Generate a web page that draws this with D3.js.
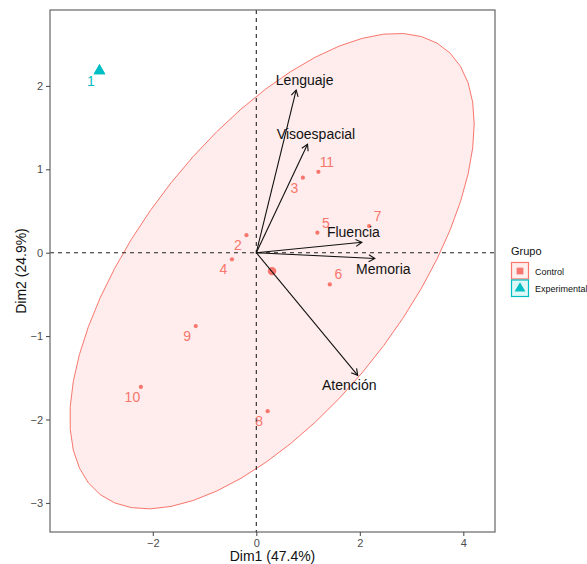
<!DOCTYPE html>
<html>
<head>
<meta charset="utf-8">
<script src="https://cdn.jsdelivr.net/npm/d3@7"></script>
<style>
  body { margin: 0; background: #fff; }
  svg { display: block; font-family: "Liberation Sans", Arial, sans-serif; }
</style>
</head>
<body>
<div id="chart"></div>
<script>
// individuals (PCA scores)
const indNames = ["1", "2", "3", "4", "5", "6", "7", "8", "9", "10", "11"];
const indGroup = ["Experimental", "Control", "Control", "Control", "Control", "Control",
  "Control", "Control", "Control", "Control", "Control"];
const indDim1 = [-3.03, -0.19, 0.90, -0.47, 1.18, 1.42, 2.18, 0.22, -1.17, -2.23, 1.20];
const indDim2 = [2.18, 0.21, 0.90, -0.08, 0.24, -0.38, 0.32, -1.90, -0.88, -1.61, 0.97];

// variables (arrows)
const varNames = ["Lenguaje", "Visoespacial", "Fluencia", "Memoria", "Atención"];
const varDim1 = [0.77, 0.99, 2.04, 2.29, 1.96];
const varDim2 = [1.95, 1.30, 0.125, -0.07, -1.47];

const groups = ["Control", "Experimental"];
const xTicks = [-2, 0, 2, 4];
const yTicks = [-3, -2, -1, 0, 1, 2];

// label placement (repel direction), layout only
const indLabelDir = [[-1, 1], [-1, 1], [-1, 1], [-1, 1], [1, -1], [1, -1], [1, -1],
  [-1, 1], [-1, 1], [-1, 1], [1, -1]];
const varLabelDir = [[1, -1], [1, -1], [-1, -1], [1, 1], [-1, 1]];

const width = 587, height = 564;
const panel = { left: 50, right: 495, top: 10, bottom: 532 };
const color = d3.scaleOrdinal().domain(groups).range(["#F8766D", "#00BFC4"]);

const x = d3.scaleLinear().domain([-3.986, 4.612]).range([panel.left, panel.right]);
const y = d3.scaleLinear().domain([2.91, -3.349]).range([panel.top, panel.bottom]);

const svg = d3.select("#chart").append("svg")
  .attr("width", width)
  .attr("height", height);

const inds = indNames.map((n, i) => ({
  name: n, group: indGroup[i], d1: indDim1[i], d2: indDim2[i], dir: indLabelDir[i]
}));

// normal data ellipse (level 0.95) like stat_ellipse(type = "norm")
const ellipsePoints = (pts) => {
  const n = pts.length;
  const mx = d3.mean(pts, (p) => p.d1), my = d3.mean(pts, (p) => p.d2);
  let sxx = 0, syy = 0, sxy = 0;
  pts.forEach((p) => {
    sxx += (p.d1 - mx) ** 2;
    syy += (p.d2 - my) ** 2;
    sxy += (p.d1 - mx) * (p.d2 - my);
  });
  sxx /= n - 1; syy /= n - 1; sxy /= n - 1;
  // cholesky (upper)
  const a = Math.sqrt(sxx), b = sxy / a, c = Math.sqrt(syy - b * b);
  const qf = 4.256; // qf(0.95, 2, 9)
  const r = Math.sqrt(2 * qf);
  return d3.range(0, 52).map((k) => {
    const t = (k / 51) * 2 * Math.PI;
    const u = Math.cos(t), v = Math.sin(t);
    return [mx + r * (u * a), my + r * (u * b + v * c)];
  });
};

svg.append("defs").append("clipPath").attr("id", "panelClip")
  .append("rect")
  .attr("x", panel.left).attr("y", panel.top)
  .attr("width", panel.right - panel.left).attr("height", panel.bottom - panel.top);

const g = svg.append("g").attr("clip-path", "url(#panelClip)");

const control = inds.filter((d) => d.group === "Control");
g.append("path")
  .attr("d", d3.line().x((d) => x(d[0])).y((d) => y(d[1]))(ellipsePoints(control)) + "Z")
  .style("fill", color("Control"))
  .style("fill-opacity", 0.13)
  .style("stroke", color("Control"))
  .style("stroke-width", 1);

// dashed reference lines
g.append("line")
  .attr("x1", panel.left).attr("x2", panel.right)
  .attr("y1", y(0)).attr("y2", y(0))
  .style("stroke", "#222").style("stroke-width", 1.1).style("stroke-dasharray", "4,4");
g.append("line")
  .attr("x1", x(0)).attr("x2", x(0))
  .attr("y1", panel.top).attr("y2", panel.bottom)
  .style("stroke", "#222").style("stroke-width", 1.1).style("stroke-dasharray", "4,4");

// individual points
g.selectAll(".ind")
  .data(inds)
  .enter()
  .append("path")
  .attr("class", "ind")
  .attr("transform", (d) => `translate(${x(d.d1)},${y(d.d2)})`)
  .attr("d", (d) => d.group === "Control"
    ? d3.symbol(d3.symbolCircle, 14)()
    : d3.symbol(d3.symbolTriangle, 60)())
  .style("fill", (d) => color(d.group));

// group mean points
groups.forEach((grp) => {
  const pts = inds.filter((d) => d.group === grp);
  const mx = d3.mean(pts, (p) => p.d1), my = d3.mean(pts, (p) => p.d2);
  g.append("path")
    .attr("transform", `translate(${x(mx)},${y(my)})`)
    .attr("d", grp === "Control"
      ? d3.symbol(d3.symbolCircle, 55)()
      : d3.symbol(d3.symbolTriangle, 60)())
    .style("fill", color(grp));
});

g.selectAll(".indLabel")
  .data(inds)
  .enter()
  .append("text")
  .attr("class", "indLabel")
  .attr("x", (d) => x(d.d1) + d.dir[0] * 8.5)
  .attr("y", (d) => y(d.d2) + d.dir[1] * 10)
  .attr("text-anchor", "middle")
  .attr("dominant-baseline", "central")
  .style("font-size", "14px")
  .style("fill", (d) => color(d.group))
  .text((d) => d.name);

// variable arrows
const vars = varNames.map((n, i) => ({ name: n, d1: varDim1[i], d2: varDim2[i], dir: varLabelDir[i] }));
const arrowHead = (d) => {
  const x1 = x(0), y1 = y(0), x2 = x(d.d1), y2 = y(d.d2);
  const ang = Math.atan2(y2 - y1, x2 - x1);
  const len = 7, spread = Math.PI / 6;
  const p1 = [x2 - len * Math.cos(ang - spread), y2 - len * Math.sin(ang - spread)];
  const p2 = [x2 - len * Math.cos(ang + spread), y2 - len * Math.sin(ang + spread)];
  return `M${p1[0]},${p1[1]}L${x2},${y2}L${p2[0]},${p2[1]}`;
};

const arrows = g.selectAll(".var").data(vars).enter().append("g").attr("class", "var");
arrows.append("line")
  .attr("x1", x(0)).attr("y1", y(0))
  .attr("x2", (d) => x(d.d1)).attr("y2", (d) => y(d.d2))
  .style("stroke", "#111").style("stroke-width", 1.1);
arrows.append("path")
  .attr("d", arrowHead)
  .style("fill", "none").style("stroke", "#111").style("stroke-width", 1.1);
arrows.append("text")
  .attr("x", (d) => x(d.d1) + d.dir[0] * 8.5)
  .attr("y", (d) => y(d.d2) + d.dir[1] * 10)
  .attr("text-anchor", "middle")
  .attr("dominant-baseline", "central")
  .style("font-size", "14px")
  .style("fill", "#111")
  .text((d) => d.name);

// panel border
svg.append("rect")
  .attr("x", panel.left).attr("y", panel.top)
  .attr("width", panel.right - panel.left).attr("height", panel.bottom - panel.top)
  .style("fill", "none").style("stroke", "#666").style("stroke-width", 1.2);

// axes
const fmt = (d) => d < 0 ? "\u2212" + Math.abs(d) : d;
const xAxis = svg.append("g")
  .attr("transform", `translate(0,${panel.bottom})`)
  .call(d3.axisBottom(x).tickValues(xTicks).tickSize(4).tickPadding(3).tickFormat(fmt));
const yAxis = svg.append("g")
  .attr("transform", `translate(${panel.left},0)`)
  .call(d3.axisLeft(y).tickValues(yTicks).tickSize(4).tickPadding(3).tickFormat(fmt));
[xAxis, yAxis].forEach((ax) => {
  ax.select(".domain").remove();
  ax.selectAll(".tick line").style("stroke", "#444").style("stroke-width", 1);
  ax.selectAll(".tick text").style("font-size", "11px").style("fill", "#4d4d4d")
    .style("font-family", "\"Liberation Sans\", Arial, sans-serif");
});

svg.append("text")
  .attr("x", (panel.left + panel.right) / 2)
  .attr("y", 561)
  .attr("text-anchor", "middle")
  .style("font-size", "14px")
  .style("fill", "#111")
  .text("Dim1 (47.4%)");

svg.append("text")
  .attr("transform", `translate(26,${(panel.top + panel.bottom) / 2}) rotate(-90)`)
  .attr("text-anchor", "middle")
  .style("font-size", "14px")
  .style("fill", "#111")
  .text("Dim2 (24.9%)");

// legend
const legend = svg.append("g").attr("transform", "translate(511,244)");
legend.append("text")
  .attr("x", 0).attr("y", 11)
  .style("font-size", "11px").style("fill", "#111")
  .text("Grupo");
const items = legend.selectAll(".item").data(groups).enter().append("g")
  .attr("transform", (d, i) => `translate(0,${18 + i * 17.5})`);
items.append("rect")
  .attr("x", 0.5).attr("y", 0.5).attr("width", 17).attr("height", 16.5)
  .style("fill", (d) => d3.interpolateRgb("#fff", color(d))(0.12))
  .style("stroke", (d) => color(d)).style("stroke-width", 1.2);
items.append("path")
  .attr("transform", "translate(9,9)")
  .attr("d", (d) => d === "Control"
    ? d3.symbol(d3.symbolSquare, 45)()
    : d3.symbol(d3.symbolTriangle, 50)())
  .style("fill", (d) => color(d));
items.append("text")
  .attr("x", 24).attr("y", 12.5)
  .style("font-size", "9px").style("fill", "#111")
  .text((d) => d);
</script>
</body>
</html>
